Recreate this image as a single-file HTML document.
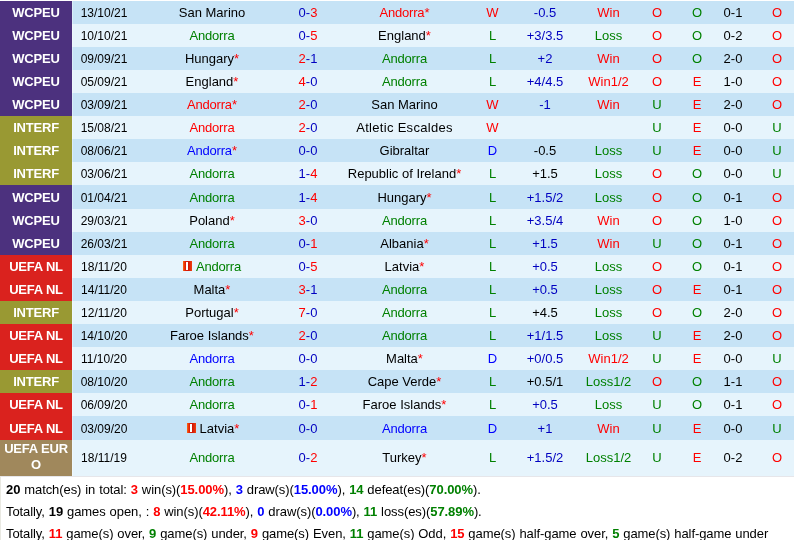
<!DOCTYPE html>
<html><head><meta charset="utf-8"><title>Andorra</title>
<style>
html,body{margin:0;padding:0;background:#fff;}
body{width:794px;height:540px;overflow:hidden;font-family:"Liberation Sans",sans-serif;font-size:13px;color:#000;position:relative;}
table{border-collapse:collapse;table-layout:fixed;width:794px;position:absolute;left:0;top:1px;}
td{padding:0;height:23px;text-align:center;vertical-align:middle;white-space:nowrap;line-height:15px;overflow:visible;}
tr.ra td{background:#c6e3f6;}
tr.rb td{background:#e6f4fc;}
tr.rc td{height:24px;}
tr.rc td.lg{height:22px;padding-top:2px;}
tr.tall td{height:34px;padding-bottom:2px;}
td.dt{font-size:12px;padding-right:0px;box-shadow:inset 1px 0 0 rgba(255,255,255,.35);}
td.dt span{position:relative;top:1px;}
td.aw{padding-left:1px;}
.ls1{letter-spacing:-0.2px;}
.ls2{letter-spacing:0.3px;}
td.lst{padding-left:6px;}
td.lg{color:#fff;font-weight:bold;font-size:13px;letter-spacing:-0.2px;white-space:normal;line-height:16px;}
tr td.w{background:#4c317e;}
tr td.i{background:#999933;}
tr td.n{background:#da221e;}
tr td.e{background:#a0885c;}
.r{color:#ff0000;} .g{color:#008000;} .b{color:#0000c0;} .k{color:#000;}
.card{display:inline-block;width:9px;height:10px;background:linear-gradient(90deg,#ff6a10 0,#e02008 25%,#d01808 60%,#f04010 100%);margin-right:4px;margin-left:2px;vertical-align:0px;position:relative;}
.card:after{content:"";position:absolute;left:3px;top:1px;width:2px;height:8px;background:#fff;}
.box{position:absolute;left:0;top:476px;width:793px;height:70px;border-top:1px solid #e6e6ea;border-left:1px solid #e9e9e2;}
.sum{position:absolute;left:6px;word-spacing:0.4px;letter-spacing:-0.08px;font-size:13px;line-height:16px;white-space:nowrap;}
.sum b{font-weight:bold;}
.sum .b{color:#0000ff;}
.bb{color:#0000ff;}
</style></head><body>
<table>
<colgroup><col style="width:72px"><col style="width:64px"><col style="width:152px"><col style="width:40px"><col style="width:152px"><col style="width:25px"><col style="width:80px"><col style="width:47px"><col style="width:50px"><col style="width:30px"><col style="width:42px"><col style="width:40px"></colgroup>
<tr class="ra"><td class="lg w">WCPEU</td><td class="dt"><span>13/10/21</span></td><td><span class="k">San Marino</span></td><td><span class="b">0</span><span class="b">-</span><span class="r">3</span></td><td class="aw"><span class="r ls1">Andorra</span><span class="r">*</span></td><td class="r">W</td><td class="b">-0.5</td><td class="r">Win</td><td class="r">O</td><td class="g">O</td><td>0-1</td><td class="lst r">O</td></tr>
<tr class="rb"><td class="lg w">WCPEU</td><td class="dt"><span>10/10/21</span></td><td><span class="g ls1">Andorra</span></td><td><span class="b">0</span><span class="b">-</span><span class="r">5</span></td><td class="aw"><span class="k">England</span><span class="r">*</span></td><td class="g">L</td><td class="b">+3/3.5</td><td class="g">Loss</td><td class="r">O</td><td class="g">O</td><td>0-2</td><td class="lst r">O</td></tr>
<tr class="ra"><td class="lg w">WCPEU</td><td class="dt"><span>09/09/21</span></td><td><span class="k">Hungary</span><span class="r">*</span></td><td><span class="r">2</span><span class="b">-</span><span class="b">1</span></td><td class="aw"><span class="g ls1">Andorra</span></td><td class="g">L</td><td class="b">+2</td><td class="r">Win</td><td class="r">O</td><td class="g">O</td><td>2-0</td><td class="lst r">O</td></tr>
<tr class="rb"><td class="lg w">WCPEU</td><td class="dt"><span>05/09/21</span></td><td><span class="k">England</span><span class="r">*</span></td><td><span class="r">4</span><span class="b">-</span><span class="b">0</span></td><td class="aw"><span class="g ls1">Andorra</span></td><td class="g">L</td><td class="b">+4/4.5</td><td class="r">Win1/2</td><td class="r">O</td><td class="r">E</td><td>1-0</td><td class="lst r">O</td></tr>
<tr class="ra"><td class="lg w">WCPEU</td><td class="dt"><span>03/09/21</span></td><td><span class="r ls1">Andorra</span><span class="r">*</span></td><td><span class="r">2</span><span class="b">-</span><span class="b">0</span></td><td class="aw"><span class="k">San Marino</span></td><td class="r">W</td><td class="b">-1</td><td class="r">Win</td><td class="g">U</td><td class="r">E</td><td>2-0</td><td class="lst r">O</td></tr>
<tr class="rb"><td class="lg i">INTERF</td><td class="dt"><span>15/08/21</span></td><td><span class="r ls1">Andorra</span></td><td><span class="r">2</span><span class="b">-</span><span class="b">0</span></td><td class="aw"><span class="k ls2">Atletic Escaldes</span></td><td class="r">W</td><td class="k"></td><td class="r"></td><td class="g">U</td><td class="r">E</td><td>0-0</td><td class="lst g">U</td></tr>
<tr class="ra"><td class="lg i">INTERF</td><td class="dt"><span>08/06/21</span></td><td><span class="bb ls1">Andorra</span><span class="r">*</span></td><td><span class="b">0</span><span class="b">-</span><span class="b">0</span></td><td class="aw"><span class="k">Gibraltar</span></td><td class="bb">D</td><td class="k">-0.5</td><td class="g">Loss</td><td class="g">U</td><td class="r">E</td><td>0-0</td><td class="lst g">U</td></tr>
<tr class="rb"><td class="lg i">INTERF</td><td class="dt"><span>03/06/21</span></td><td><span class="g ls1">Andorra</span></td><td><span class="b">1</span><span class="b">-</span><span class="r">4</span></td><td class="aw"><span class="k">Republic of Ireland</span><span class="r">*</span></td><td class="g">L</td><td class="k">+1.5</td><td class="g">Loss</td><td class="r">O</td><td class="g">O</td><td>0-0</td><td class="lst g">U</td></tr>
<tr class="ra rc"><td class="lg w">WCPEU</td><td class="dt"><span>01/04/21</span></td><td><span class="g ls1">Andorra</span></td><td><span class="b">1</span><span class="b">-</span><span class="r">4</span></td><td class="aw"><span class="k">Hungary</span><span class="r">*</span></td><td class="g">L</td><td class="b">+1.5/2</td><td class="g">Loss</td><td class="r">O</td><td class="g">O</td><td>0-1</td><td class="lst r">O</td></tr>
<tr class="rb"><td class="lg w">WCPEU</td><td class="dt"><span>29/03/21</span></td><td><span class="k">Poland</span><span class="r">*</span></td><td><span class="r">3</span><span class="b">-</span><span class="b">0</span></td><td class="aw"><span class="g ls1">Andorra</span></td><td class="g">L</td><td class="b">+3.5/4</td><td class="r">Win</td><td class="r">O</td><td class="g">O</td><td>1-0</td><td class="lst r">O</td></tr>
<tr class="ra"><td class="lg w">WCPEU</td><td class="dt"><span>26/03/21</span></td><td><span class="g ls1">Andorra</span></td><td><span class="b">0</span><span class="b">-</span><span class="r">1</span></td><td class="aw"><span class="k">Albania</span><span class="r">*</span></td><td class="g">L</td><td class="b">+1.5</td><td class="r">Win</td><td class="g">U</td><td class="g">O</td><td>0-1</td><td class="lst r">O</td></tr>
<tr class="rb"><td class="lg n">UEFA NL</td><td class="dt"><span>18/11/20</span></td><td><i class="card" style="margin-left:0"></i><span class="g ls1">Andorra</span></td><td><span class="b">0</span><span class="b">-</span><span class="r">5</span></td><td class="aw"><span class="k">Latvia</span><span class="r">*</span></td><td class="g">L</td><td class="b">+0.5</td><td class="g">Loss</td><td class="r">O</td><td class="g">O</td><td>0-1</td><td class="lst r">O</td></tr>
<tr class="ra"><td class="lg n">UEFA NL</td><td class="dt"><span>14/11/20</span></td><td><span class="k">Malta</span><span class="r">*</span></td><td><span class="r">3</span><span class="b">-</span><span class="b">1</span></td><td class="aw"><span class="g ls1">Andorra</span></td><td class="g">L</td><td class="b">+0.5</td><td class="g">Loss</td><td class="r">O</td><td class="r">E</td><td>0-1</td><td class="lst r">O</td></tr>
<tr class="rb"><td class="lg i">INTERF</td><td class="dt"><span>12/11/20</span></td><td><span class="k">Portugal</span><span class="r">*</span></td><td><span class="r">7</span><span class="b">-</span><span class="b">0</span></td><td class="aw"><span class="g ls1">Andorra</span></td><td class="g">L</td><td class="k">+4.5</td><td class="g">Loss</td><td class="r">O</td><td class="g">O</td><td>2-0</td><td class="lst r">O</td></tr>
<tr class="ra"><td class="lg n">UEFA NL</td><td class="dt"><span>14/10/20</span></td><td><span class="k">Faroe Islands</span><span class="r">*</span></td><td><span class="r">2</span><span class="b">-</span><span class="b">0</span></td><td class="aw"><span class="g ls1">Andorra</span></td><td class="g">L</td><td class="b">+1/1.5</td><td class="g">Loss</td><td class="g">U</td><td class="r">E</td><td>2-0</td><td class="lst r">O</td></tr>
<tr class="rb"><td class="lg n">UEFA NL</td><td class="dt"><span>11/10/20</span></td><td><span class="bb ls1">Andorra</span></td><td><span class="b">0</span><span class="b">-</span><span class="b">0</span></td><td class="aw"><span class="k">Malta</span><span class="r">*</span></td><td class="bb">D</td><td class="b">+0/0.5</td><td class="r">Win1/2</td><td class="g">U</td><td class="r">E</td><td>0-0</td><td class="lst g">U</td></tr>
<tr class="ra"><td class="lg i">INTERF</td><td class="dt"><span>08/10/20</span></td><td><span class="g ls1">Andorra</span></td><td><span class="b">1</span><span class="b">-</span><span class="r">2</span></td><td class="aw"><span class="k">Cape Verde</span><span class="r">*</span></td><td class="g">L</td><td class="k">+0.5/1</td><td class="g">Loss1/2</td><td class="r">O</td><td class="g">O</td><td>1-1</td><td class="lst r">O</td></tr>
<tr class="rb"><td class="lg n">UEFA NL</td><td class="dt"><span>06/09/20</span></td><td><span class="g ls1">Andorra</span></td><td><span class="b">0</span><span class="b">-</span><span class="r">1</span></td><td class="aw"><span class="k">Faroe Islands</span><span class="r">*</span></td><td class="g">L</td><td class="b">+0.5</td><td class="g">Loss</td><td class="g">U</td><td class="g">O</td><td>0-1</td><td class="lst r">O</td></tr>
<tr class="ra rc"><td class="lg n">UEFA NL</td><td class="dt"><span>03/09/20</span></td><td><i class="card"></i><span class="k">Latvia</span><span class="r">*</span></td><td><span class="b">0</span><span class="b">-</span><span class="b">0</span></td><td class="aw"><span class="bb ls1">Andorra</span></td><td class="bb">D</td><td class="b">+1</td><td class="r">Win</td><td class="g">U</td><td class="r">E</td><td>0-0</td><td class="lst g">U</td></tr>
<tr class="rb tall"><td class="lg e">UEFA EUR<br>O</td><td class="dt"><span>18/11/19</span></td><td><span class="g ls1">Andorra</span></td><td><span class="b">0</span><span class="b">-</span><span class="r">2</span></td><td class="aw"><span class="k">Turkey</span><span class="r">*</span></td><td class="g">L</td><td class="b">+1.5/2</td><td class="g">Loss1/2</td><td class="g">U</td><td class="r">E</td><td>0-2</td><td class="lst r">O</td></tr>
</table>
<div class="box"></div>
<div class="sum" style="top:482px"><b>20</b> match(es) in total: <b class="r">3</b> win(s)(<b class="r">15.00%</b>), <b class="b">3</b> draw(s)(<b class="b">15.00%</b>), <b class="g">14</b> defeat(es)(<b class="g">70.00%</b>).</div>
<div class="sum" style="top:504px">Totally, <b>19</b> games open, : <b class="r">8</b> win(s)(<b class="r">42.11%</b>), <b class="b">0</b> draw(s)(<b class="b">0.00%</b>), <b class="g">11</b> loss(es)(<b class="g">57.89%</b>).</div>
<div class="sum" style="top:526px">Totally, <b class="r">11</b> game(s) over, <b class="g">9</b> game(s) under, <b class="r">9</b> game(s) Even, <b class="g">11</b> game(s) Odd, <b class="r">15</b> game(s) half-game over, <b class="g">5</b> game(s) half-game under</div>
</body></html>
